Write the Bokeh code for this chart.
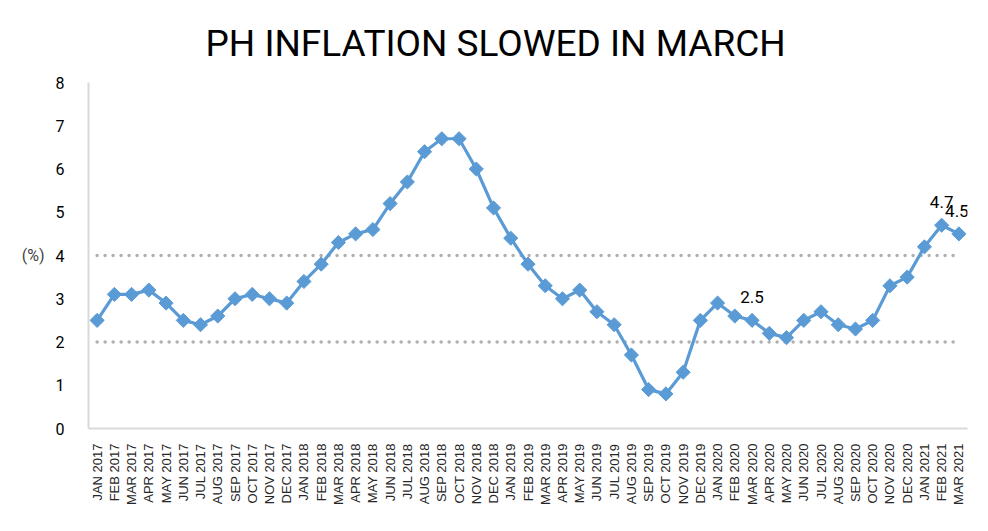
import math
from bokeh.plotting import figure
from bokeh.models import FactorRange, Range1d, ColumnDataSource, LabelSet, Title
from bokeh.core.properties import value
from bokeh.embed import file_html
from bokeh.resources import INLINE

months = ["JAN", "FEB", "MAR", "APR", "MAY", "JUN", "JUL", "AUG", "SEP", "OCT", "NOV", "DEC"]
categories = [f"{m} {y}" for y in (2017, 2018, 2019, 2020) for m in months] + ["JAN 2021", "FEB 2021", "MAR 2021"]

inflation = [
    2.5, 3.1, 3.1, 3.2, 2.9, 2.5, 2.4, 2.6, 3.0, 3.1, 3.0, 2.9,
    3.4, 3.8, 4.3, 4.5, 4.6, 5.2, 5.7, 6.4, 6.7, 6.7, 6.0, 5.1,
    4.4, 3.8, 3.3, 3.0, 3.2, 2.7, 2.4, 1.7, 0.9, 0.8, 1.3, 2.5,
    2.9, 2.6, 2.5, 2.2, 2.1, 2.5, 2.7, 2.4, 2.3, 2.5, 3.3, 3.5,
    4.2, 4.7, 4.5,
]
band_low = [2.0] * len(categories)
band_high = [4.0] * len(categories)

label_cats = ["MAR 2020", "FEB 2021", "MAR 2021"]
label_vals = [2.5, 4.7, 4.5]
label_texts = ["2.5", "4.7", "4.5"]

title_text = "PH INFLATION SLOWED IN MARCH"

p = figure(
    width=980, height=523,
    x_range=FactorRange(*categories, range_padding=0),
    y_range=Range1d(0, 8),
    output_backend="svg", toolbar_location=None,
    min_border_left=88, min_border_right=13, min_border_top=82, min_border_bottom=95,
)
p.title = Title(text=title_text, align="left", offset=117, standoff=36,
                text_font="Roboto", text_font_size="37px", text_font_style="normal",
                text_color="#000000")
p.outline_line_color = None
p.xgrid.grid_line_color = None
p.ygrid.grid_line_color = None

src = ColumnDataSource(dict(x=categories, y=inflation, lo=band_low, hi=band_high))
p.line("x", "lo", source=src, line_color="#b0b0b0", line_width=3.5, line_dash="0 8", line_cap="round")
p.line("x", "hi", source=src, line_color="#b0b0b0", line_width=3.5, line_dash="0 8", line_cap="round")
p.line("x", "y", source=src, line_color="#5b9bd5", line_width=3.2)
p.scatter("x", "y", source=src, marker="square", size=10, angle=math.pi / 4,
          fill_color="#5b9bd5", line_color="#5b9bd5")

lsrc = ColumnDataSource(dict(x=label_cats, y=label_vals, t=label_texts, dx=[0, 0, -2]))
p.add_layout(LabelSet(x="x", y="y", text="t", source=lsrc, text_align="center",
                      text_baseline="bottom", y_offset=17, x_offset="dx",
                      text_font=value("Roboto"), text_font_size=value("17px"),
                      text_color="#000000"))

p.yaxis.ticker = list(range(0, 9))
p.yaxis.axis_label = "(%)"
p.yaxis.axis_label_orientation = "horizontal"
p.yaxis.axis_label_text_font = "Roboto"
p.yaxis.axis_label_text_font_style = "normal"
p.yaxis.axis_label_text_font_size = "16px"
p.yaxis.axis_label_standoff = 8
p.yaxis.major_label_text_font = "Roboto"
p.yaxis.major_label_text_font_size = "16px"
p.yaxis.major_label_text_color = "#000000"
p.yaxis.major_label_standoff = 18
p.yaxis.major_tick_line_color = None
p.yaxis.minor_tick_line_color = None
p.yaxis.axis_line_color = "#d9d9d9"
p.yaxis.axis_line_width = 2

p.xaxis.major_label_orientation = math.pi / 2
p.xaxis.major_label_text_font = "Liberation Sans"
p.xaxis.major_label_text_font_size = "13px"
p.xaxis.major_label_text_color = "#262626"
p.xaxis.major_label_standoff = 9
p.xaxis.major_tick_line_color = None
p.xaxis.axis_line_color = "#d9d9d9"
p.xaxis.axis_line_width = 2

open("out.html", "w").write(file_html(p, INLINE))
